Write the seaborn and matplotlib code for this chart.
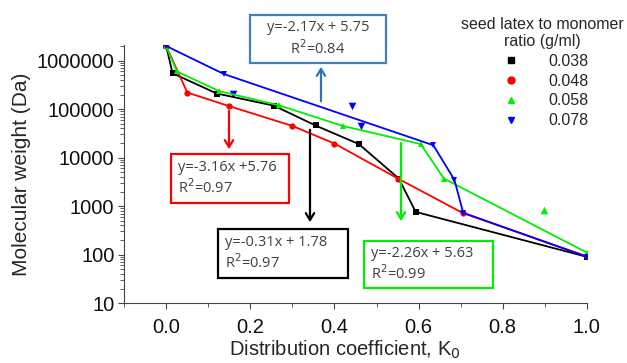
import matplotlib
matplotlib.use("Agg")
import matplotlib.pyplot as plt
import matplotlib.ticker as mticker
from matplotlib.lines import Line2D
import seaborn as sns

############################################################################
# DATA
############################################################################

ratios = ["0.038", "0.048", "0.058", "0.078"]

k_038 = [0.0, 0.015, 0.12, 0.256, 0.355, 0.458, 0.553, 0.593, 1.0]
mw_038 = [2000000, 550000, 210000, 118000, 46000, 19000, 3700, 760, 90]

k_048 = [0.0, 0.05, 0.15, 0.30, 0.40, 0.551, 0.705, 1.0]
mw_048 = [2000000, 220000, 115000, 45000, 19500, 3700, 720, 92]

k_058 = [0.0, 0.025, 0.126, 0.268, 0.42, 0.605, 0.66, 1.0]
mw_058 = [2000000, 600000, 235000, 120000, 45000, 19000, 3700, 110]
k_058_extra = [0.897]
mw_058_extra = [830]

k_078 = [0.0, 0.137, 0.635, 0.685, 0.706, 1.0]
mw_078 = [2000000, 530000, 18000, 3500, 730, 90]
k_078_extra = [0.159, 0.442, 0.464]
mw_078_extra = [210000, 115000, 44000]

fit_labels = ["y=-0.31x + 1.78\nR$^2$=0.97",
			  "y=-3.16x +5.76\nR$^2$=0.97",
			  "y=-2.26x + 5.63\nR$^2$=0.99",
			  "y=-2.17x + 5.75\nR$^2$=0.84"]

############################################################################

def config_sns():
	sns.set_style("ticks")
	plt.rcParams["font.family"] = ["Liberation Sans", "DejaVu Sans"]

def main():
	config_sns()

	colors = ["#000000", "#ff0000", "#00ee00", "#0000ff"]
	markers = ["s", "o", "^", "v"]
	xs = [k_038, k_048, k_058, k_078]
	ys = [mw_038, mw_048, mw_058, mw_078]

	fig = plt.figure(figsize=(6.27, 3.63), dpi=100)
	ax = fig.add_axes([0.198, 0.165, 0.738, 0.711])

	for x, y, c, m in zip(xs, ys, colors, markers):
		sns.lineplot(x=x, y=y, ax=ax, color=c, marker=m, markersize=4.5,
					 markeredgewidth=0, linewidth=1.3, sort=False, estimator=None)

	sns.scatterplot(x=k_058_extra, y=mw_058_extra, ax=ax, color=colors[2],
					marker="^", s=30, linewidth=0)
	sns.scatterplot(x=k_078_extra, y=mw_078_extra, ax=ax, color=colors[3],
					marker="v", s=30, linewidth=0)

	ax.set_yscale("log")
	ax.set_xlim(-0.1, 1.0)
	ax.set_ylim(10, 2.1e6)
	ax.xaxis.set_major_locator(mticker.MultipleLocator(0.2))
	ax.xaxis.set_minor_locator(mticker.MultipleLocator(0.1))
	ax.xaxis.set_major_formatter(mticker.FormatStrFormatter("%.1f"))
	ax.yaxis.set_major_locator(mticker.LogLocator(base=10))
	ax.yaxis.set_minor_locator(mticker.LogLocator(base=10, subs=range(2, 10)))
	ax.yaxis.set_major_formatter(mticker.FuncFormatter(lambda v, p: "%d" % round(v)))
	ax.yaxis.set_minor_formatter(mticker.NullFormatter())
	ax.tick_params(axis="both", which="major", labelsize=14.5, length=4,
				   color="#444444", labelcolor="#111111")
	ax.tick_params(axis="x", which="major", pad=6.5)
	ax.tick_params(axis="y", which="major", pad=3)
	ax.tick_params(axis="both", which="minor", length=3, color="#444444")
	for s in ["left", "bottom"]:
		ax.spines[s].set_color("#444444")
	sns.despine(ax=ax)

	ax.set_xlabel("Distribution coefficient, K$_0$", fontsize=14.5)
	ax.xaxis.set_label_coords(0.477, -0.138)
	ax.set_ylabel("Molecular weight (Da)", fontsize=15, labelpad=4)

	# legend (markers only), placed in figure coords
	handles = [Line2D([], [], color=c, marker=m, linestyle="none", markersize=5)
			   for c, m in zip(colors, markers)]
	leg = fig.legend(handles, ratios, title="seed latex to monomer\nratio (g/ml)",
					 loc="upper center", bbox_to_anchor=(542 / 627, 1 - 15 / 363),
					 frameon=False, fontsize=11.5, title_fontsize=11.5,
					 handletextpad=1.3, labelspacing=0.3, borderpad=0.1,
					 borderaxespad=0)
	leg._legend_box.align = "center"
	leg.get_title().set_multialignment("center")

	# fit annotation boxes with arrows (in pixel coords of the figure)
	W, H = 627.0, 363.0
	def fc(px, py):
		return (px / W, 1 - py / H)

	boxes = [
		(218, 229, 348, 278, "#000000", fit_labels[0], "left"),
		(171, 154, 289, 203, "#ff0000", fit_labels[1], "left"),
		(364, 241, 493, 288, "#00ee00", fit_labels[2], "left"),
		(250, 15, 386, 63, "#4a7ebb", fit_labels[3], "center"),
	]
	for x0, y0, x1, y1, c, txt, al in boxes:
		rect = plt.Rectangle(fc(x0, y1), (x1 - x0) / W, (y1 - y0) / H,
							 transform=fig.transFigure, fill=True, facecolor="white",
							 edgecolor=c, linewidth=1.6, zorder=5)
		fig.add_artist(rect)
		tx = (x0 + 7) / W if al == "left" else (x0 + x1) / 2 / W
		fig.text(tx, 1 - (y0 + y1) / 2 / H, txt, fontsize=10.5,
				 family=["Open Sans", "DejaVu Sans"], color="#404040",
				 va="center", ha=al, multialignment="center" if al == "center" else "left",
				 linespacing=1.25, zorder=6)

	arrows = [
		(310, 127, 310, 225, "#000000"),
		(229, 108, 229, 152, "#ff0000"),
		(401, 140, 401, 224, "#00ee00"),
		(321, 104, 321, 64, "#2e75b6"),
	]
	for x0, y0, x1, y1, c in arrows:
		ax.annotate("", xy=fc(x1, y1), xytext=fc(x0, y0),
					xycoords="figure fraction", textcoords="figure fraction",
					arrowprops=dict(arrowstyle="->,head_width=0.3,head_length=0.5",
									color=c, lw=1.6))

	fig.savefig("out.png", dpi=100)

if __name__ == "__main__":
	main()
